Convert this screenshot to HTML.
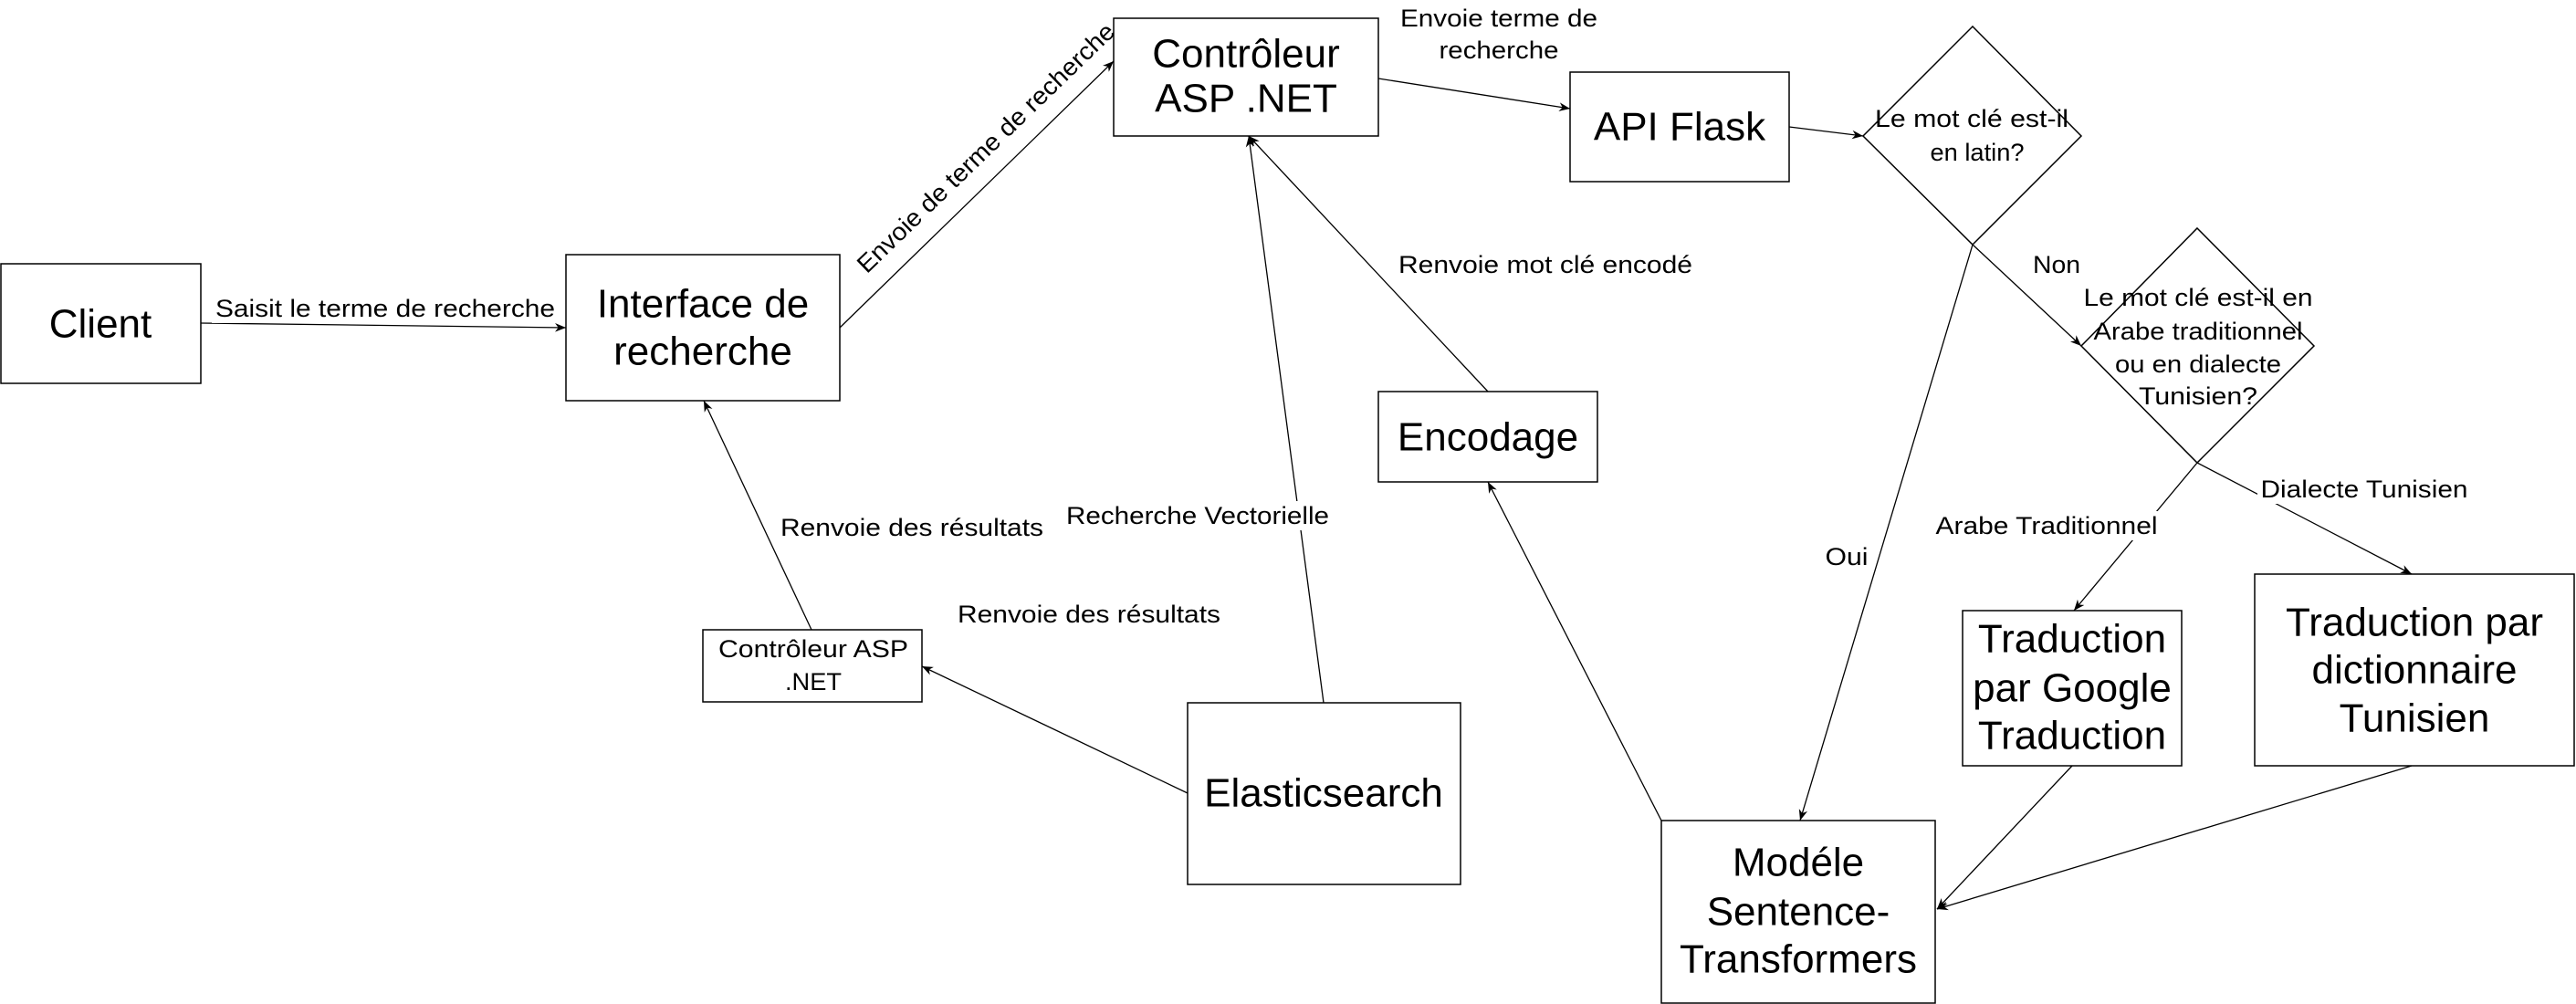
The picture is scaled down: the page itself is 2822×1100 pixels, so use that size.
<!DOCTYPE html>
<html><head><meta charset="utf-8"><style>
html,body{margin:0;padding:0;background:#fff;}
svg{display:block;}
text{font-family:"Liberation Sans",Arial,sans-serif;fill:#000;}
.b{font-size:44px;}
.l{font-size:27px;}
</style></head><body>
<svg width="2822" height="1100" viewBox="0 0 2822 1100" xmlns="http://www.w3.org/2000/svg">
<defs>
<marker id="a" viewBox="0 0 10 10" refX="10" refY="5" markerWidth="12" markerHeight="12" markerUnits="userSpaceOnUse" orient="auto">
<path d="M0,1 L10,5 L0,9 L3,5 Z" fill="#000"/>
</marker>
</defs>
<g fill="none" stroke="#000" stroke-width="1.5">
<rect x="1" y="289" width="219" height="131"/>
<rect x="620" y="279" width="300" height="160"/>
<rect x="1220" y="20" width="290" height="129"/>
<rect x="1720" y="79" width="240" height="120"/>
<polygon points="2161,29 2280,149 2161,268 2041,149"/>
<polygon points="2407,250 2535,379 2407,507 2280,379"/>
<rect x="1510" y="429" width="240" height="99"/>
<rect x="1301" y="770" width="299" height="199"/>
<rect x="770" y="690" width="240" height="79"/>
<rect x="1820" y="899" width="300" height="200"/>
<rect x="2150" y="669" width="240" height="170"/>
<rect x="2470" y="629" width="350" height="210"/>
</g>
<g fill="none" stroke="#000" stroke-width="1.3" marker-end="url(#a)">
<path d="M220,354 L620,359"/>
<path d="M920,359 L1220,67"/>
<path d="M1510,86 L1720,119"/>
<path d="M1960,139 L2041,149"/>
<path d="M2161,268 L1972,899"/>
<path d="M2161,268 L2280,379"/>
<path d="M2407,507 L2272,669"/>
<path d="M2407,507 L2642,629"/>
<path d="M2270,839 L2122,996"/>
<path d="M2642,839 L2122,996"/>
<path d="M1820,899 L1630,528"/>
<path d="M1630,429 L1368,149"/>
<path d="M1450,770 L1368,149"/>
<path d="M1301,869 L1010,730"/>
<path d="M889,690 L771,439"/>
</g>
<!-- label backgrounds -->
<g fill="#fff">
<rect x="232" y="322" width="380" height="32"/>
<rect x="2473" y="520" width="235" height="32"/>
<rect x="2116" y="560" width="251" height="32"/>
<rect x="1996" y="594" width="55" height="32"/>
<rect x="2223" y="274" width="60" height="32"/>
<rect x="1164" y="549" width="296" height="32"/>
</g>
<g class="b" text-anchor="middle" dominant-baseline="central">
<text x="110" y="355">Client</text>
<text x="770" y="333">Interface de</text>
<text x="770" y="385">recherche</text>
<text x="1365" y="59">Contrôleur</text>
<text x="1365" y="108">ASP .NET</text>
<text x="1840" y="139">API Flask</text>
<text x="1630" y="479">Encodage</text>
<text x="1450" y="869">Elasticsearch</text>
<text x="1970" y="945">Modéle</text>
<text x="1970" y="999">Sentence-</text>
<text x="1970" y="1051">Transformers</text>
<text x="2270" y="700">Traduction</text>
<text x="2270" y="754">par Google</text>
<text x="2270" y="806">Traduction</text>
<text x="2645" y="682">Traduction par</text>
<text x="2645" y="734">dictionnaire</text>
<text x="2645" y="787">Tunisien</text>
</g>
<g class="l" text-anchor="middle" dominant-baseline="central">
<text x="422" y="338" textLength="372" lengthAdjust="spacingAndGlyphs">Saisit le terme de recherche</text>
<text x="1642" y="20" textLength="216" lengthAdjust="spacingAndGlyphs">Envoie terme de</text>
<text x="1642" y="55" textLength="131" lengthAdjust="spacingAndGlyphs">recherche</text>
<text x="1693" y="290" textLength="322" lengthAdjust="spacingAndGlyphs">Renvoie mot clé encodé</text>
<text x="2253" y="290" textLength="52" lengthAdjust="spacingAndGlyphs">Non</text>
<text x="2160" y="130" textLength="212" lengthAdjust="spacingAndGlyphs">Le mot clé est-il</text>
<text x="2166" y="167" textLength="103" lengthAdjust="spacingAndGlyphs">en latin?</text>
<text x="2408" y="326" textLength="251" lengthAdjust="spacingAndGlyphs">Le mot clé est-il en</text>
<text x="2408" y="363" textLength="229" lengthAdjust="spacingAndGlyphs">Arabe traditionnel</text>
<text x="2408" y="399" textLength="182" lengthAdjust="spacingAndGlyphs">ou en dialecte</text>
<text x="2408" y="434" textLength="130" lengthAdjust="spacingAndGlyphs">Tunisien?</text>
<text x="2590" y="536" textLength="227" lengthAdjust="spacingAndGlyphs">Dialecte Tunisien</text>
<text x="2242" y="576" textLength="243" lengthAdjust="spacingAndGlyphs">Arabe Traditionnel</text>
<text x="2023" y="610" textLength="47" lengthAdjust="spacingAndGlyphs">Oui</text>
<text x="1312" y="565" textLength="288" lengthAdjust="spacingAndGlyphs">Recherche Vectorielle</text>
<text x="999" y="578" textLength="288" lengthAdjust="spacingAndGlyphs">Renvoie des résultats</text>
<text x="1193" y="673" textLength="288" lengthAdjust="spacingAndGlyphs">Renvoie des résultats</text>
<text x="891" y="711" textLength="208" lengthAdjust="spacingAndGlyphs">Contrôleur ASP</text>
<text x="891" y="747" textLength="62" lengthAdjust="spacingAndGlyphs">.NET</text>
<text transform="translate(1080,162) rotate(-44)" textLength="380" lengthAdjust="spacingAndGlyphs">Envoie de terme de recherche</text>
</g>
</svg>
</body></html>
